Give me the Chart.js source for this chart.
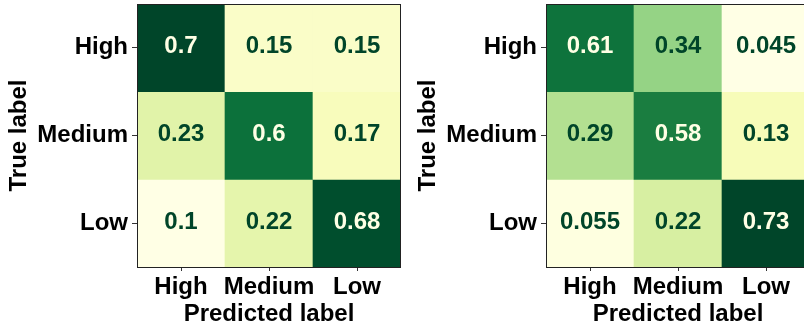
<!DOCTYPE html>
<html>
<head>
<meta charset="utf-8">
<script src="https://cdn.jsdelivr.net/npm/chart.js@4.4.1/dist/chart.umd.min.js"></script>
<style>
  html, body { margin: 0; padding: 0; background: #ffffff; overflow: hidden; }
  #wrap { position: relative; width: 804px; height: 328px; overflow: hidden; }
  .panel { position: absolute; top: 0; width: 410px; height: 328px; }
</style>
</head>
<body>
<div id="wrap">
  <div class="panel" style="left:0px"><canvas id="cmLeft" width="410" height="328"></canvas></div>
  <div class="panel" style="left:409px"><canvas id="cmRight" width="410" height="328"></canvas></div>
</div>
<script>
// Class names (true label rows, predicted label columns)
const classes = ['High', 'Medium', 'Low'];

// Left matrix, one array per true label
const leftHigh   = [0.7, 0.15, 0.15];
const leftMedium = [0.23, 0.6, 0.17];
const leftLow    = [0.1, 0.22, 0.68];

// Right matrix, one array per true label
const rightHigh   = [0.61, 0.34, 0.045];
const rightMedium = [0.29, 0.58, 0.13];
const rightLow    = [0.055, 0.22, 0.73];

// YlGn colour stops
const ylgn = ['#ffffe5', '#f7fcb9', '#d9f0a3', '#addd8e', '#78c679',
              '#41ab5d', '#238443', '#006837', '#004529'];

function hexToRgb(h) {
  const n = parseInt(h.slice(1), 16);
  return [(n >> 16) & 255, (n >> 8) & 255, n & 255];
}
function cmap(t) {
  t = Math.max(0, Math.min(1, t));
  const pos = t * (ylgn.length - 1);
  const i = Math.min(Math.floor(pos), ylgn.length - 2);
  const f = pos - i;
  const a = hexToRgb(ylgn[i]), b = hexToRgb(ylgn[i + 1]);
  const c = a.map((v, k) => Math.round(v + (b[k] - v) * f));
  return `rgb(${c[0]},${c[1]},${c[2]})`;
}

const FONT = "'Liberation Sans', Arial, sans-serif";

// Writes each cell's value in its centre, light text on dark cells
const cellText = {
  id: 'cellText',
  afterDatasetsDraw(chart, args, opts) {
    const { ctx, scales: { x, y } } = chart;
    const m = opts.matrix;
    const flat = m.flat();
    const lo = Math.min(...flat), hi = Math.max(...flat);
    const thresh = (lo + hi) / 2;
    ctx.save();
    ctx.font = `bold 24px ${FONT}`;
    ctx.textAlign = 'center';
    ctx.textBaseline = 'middle';
    m.forEach((row, r) => {
      row.forEach((v, c) => {
        ctx.fillStyle = v < thresh ? ylgn[ylgn.length - 1] : ylgn[0];
        ctx.fillText(String(v), x.getPixelForValue(c), y.getPixelForValue(r + 0.5) - 1);
      });
    });
    ctx.restore();
  }
};

// Axes frame around the plotting area
const frame = {
  id: 'frame',
  afterDraw(chart) {
    const { ctx, chartArea: a } = chart;
    ctx.save();
    ctx.strokeStyle = '#222222';
    ctx.lineWidth = 1;
    ctx.strokeRect(a.left + 0.5, a.top + 0.5, a.right - a.left - 1, a.bottom - a.top);
    ctx.restore();
  }
};

function buildMatrix(canvasId, rows) {
  const flat = rows.flat();
  const lo = Math.min(...flat), hi = Math.max(...flat);
  // Each true-label row is a dataset of floating bars spanning [r, r+1]
  const datasets = rows.map((row, r) => ({
    data: row.map(() => [r, r + 1]),
    backgroundColor: row.map(v => cmap((v - lo) / (hi - lo))),
    borderWidth: 0,
    borderSkipped: false,
    grouped: false,
    barPercentage: 1,
    categoryPercentage: 1
  }));

  return new Chart(document.getElementById(canvasId), {
    type: 'bar',
    data: { labels: classes, datasets },
    options: {
      responsive: false,
      devicePixelRatio: 1,
      animation: false,
      layout: { padding: { left: 0, right: 9, top: 4, bottom: 0 } },
      plugins: {
        legend: { display: false },
        tooltip: { enabled: false },
        cellText: { matrix: rows }
      },
      scales: {
        x: {
          type: 'category',
          offset: true,
          border: { display: false },
          grid: { offset: false, drawOnChartArea: false, drawTicks: true, tickLength: 4, color: '#333333' },
          ticks: { color: '#000000', font: { family: FONT, size: 24, weight: 'bold' }, padding: 2, maxRotation: 0, autoSkip: false },
          title: {
            display: true, text: 'Predicted label', color: '#000000',
            font: { family: FONT, size: 24, weight: 'bold', lineHeight: 1.12 },
            padding: { top: 0, bottom: 0 }
          },
          afterFit(scale) {
            scale.height = 61;
            scale.paddingLeft = 0;
            scale.paddingRight = 0;
          }
        },
        y: {
          type: 'linear',
          min: 0, max: 3, reverse: true,
          border: { display: false },
          grid: { drawOnChartArea: false, drawTicks: true, tickLength: 5, color: '#333333' },
          afterBuildTicks(scale) {
            scale.ticks = classes.map((_, i) => ({ value: i + 0.5 }));
          },
          ticks: {
            color: '#000000', font: { family: FONT, size: 24, weight: 'bold' }, padding: 4,
            autoSkip: false,
            callback: (value) => classes[Math.round(value - 0.5)]
          },
          title: {
            display: true, text: 'True label', color: '#000000',
            font: { family: FONT, size: 24, weight: 'bold', lineHeight: 1.2 },
            padding: { top: 5, bottom: 0 }
          },
          afterFit(scale) {
            scale.width = 137;
            scale.paddingTop = 0;
            scale.paddingBottom = 0;
          }
        }
      }
    },
    plugins: [cellText, frame]
  });
}

buildMatrix('cmLeft', [leftHigh, leftMedium, leftLow]);
buildMatrix('cmRight', [rightHigh, rightMedium, rightLow]);
</script>
</body>
</html>
